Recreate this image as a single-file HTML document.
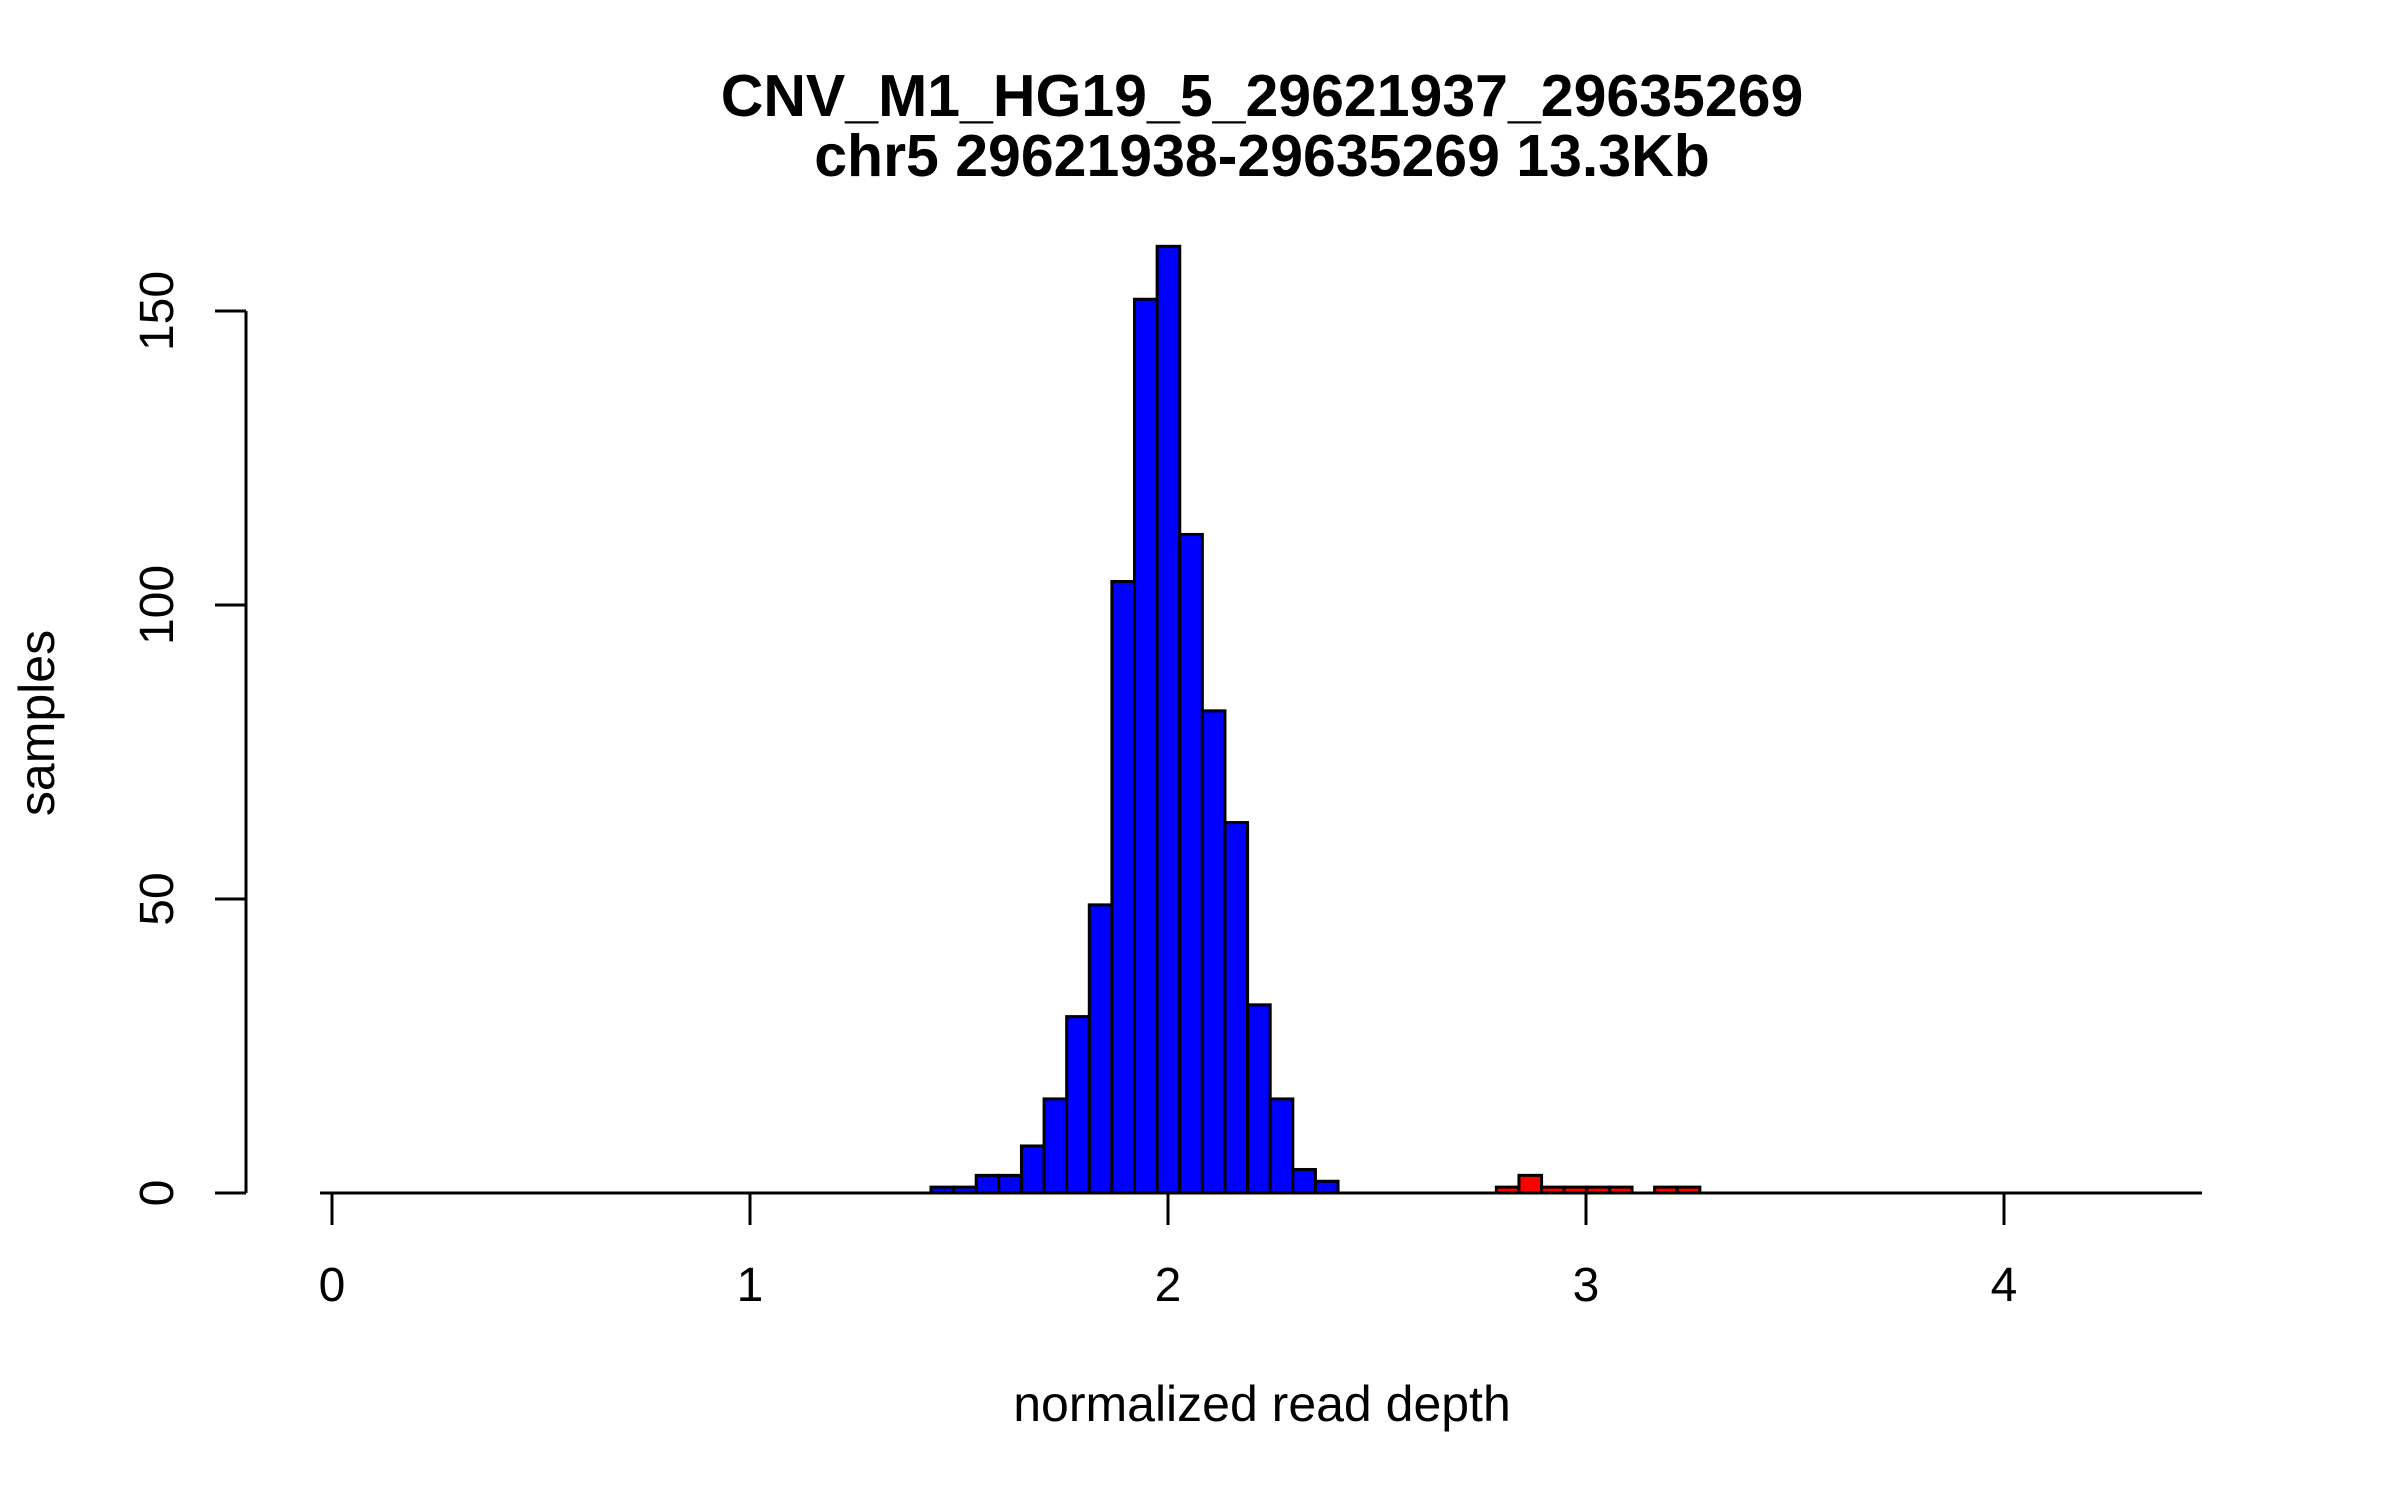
<!DOCTYPE html>
<html><head><meta charset="utf-8"><style>
html,body{margin:0;padding:0;background:#fff;}
svg{display:block;font-family:"Liberation Sans",Arial,sans-serif;}
</style></head><body>
<svg id="chart" width="2400" height="1500" viewBox="0 0 2400 1500">
<g id="title">
<text x="1262" y="116" text-anchor="middle" font-size="59" font-weight="bold">CNV_M1_HG19_5_29621937_29635269</text>
<text x="1262" y="176" text-anchor="middle" font-size="59" font-weight="bold">chr5 29621938-29635269 13.3Kb</text>
</g>
<g id="bars"></g>
<g id="axes"></g>
<text x="1262" y="1421" text-anchor="middle" font-size="50">normalized read depth</text>
<text transform="translate(54,723) rotate(-90)" text-anchor="middle" font-size="50">samples</text>
</svg>
<script>
const binStart = 1.433;
const binWidth = 0.0541;
const blueCounts = [1,1,3,3,8,16,30,49,104,152,161,112,82,63,32,16,4,2];
const redOffset = 25;
const redCounts = [1,3,1,1,1,1,0,1,1];
const xTicks = [0,1,2,3,4];
const yTicks = [0,50,100,150];

const NS = "http://www.w3.org/2000/svg";
const x0 = 332, xUnit = 418, y0 = 1193, yUnit = 5.88;
function sx(v){ return x0 + v * xUnit; }
function sy(v){ return y0 - v * yUnit; }
function mk(tag, attrs, parent){
  const e = document.createElementNS(NS, tag);
  for (const k in attrs) e.setAttribute(k, attrs[k]);
  parent.appendChild(e);
  return e;
}
const bars = document.getElementById('bars');
function drawBar(i, c, fill, name){
  if (c <= 0) return;
  const l = binStart + i * binWidth, r = l + binWidth;
  const el = mk('rect', {x: sx(l), y: sy(c), width: sx(r) - sx(l), height: sy(0) - sy(c), fill: fill, stroke: '#000', 'stroke-width': 3}, bars);
  
  
}
blueCounts.forEach((c, i) => drawBar(i, c, '#0000ff', 'bar-blue-' + i));
redCounts.forEach((c, i) => drawBar(redOffset + i, c, '#ff0000', 'bar-red-' + i));

const axes = document.getElementById('axes');
const xl = mk('line', {x1: 320, x2: 2202, y1: y0, y2: y0, stroke: '#000', 'stroke-width': 3}, axes);


xTicks.forEach(t => {
  const tk = mk('line', {x1: sx(t), x2: sx(t), y1: y0, y2: 1225, stroke: '#000', 'stroke-width': 3}, axes);
  
  
  const lb = mk('text', {x: sx(t), y: 1301, 'text-anchor': 'middle', 'font-size': 48}, axes);
  lb.textContent = t;
  
  
});
const yl = mk('line', {x1: 246, x2: 246, y1: sy(150), y2: sy(0), stroke: '#000', 'stroke-width': 3}, axes);


yTicks.forEach(t => {
  const tk = mk('line', {x1: 215, x2: 246, y1: sy(t), y2: sy(t), stroke: '#000', 'stroke-width': 3}, axes);
  
  
  const lb = mk('text', {transform: 'translate(173,' + sy(t) + ') rotate(-90)', 'text-anchor': 'middle', 'font-size': 48}, axes);
  lb.textContent = t;
  
  
});
</script>
</body></html>
